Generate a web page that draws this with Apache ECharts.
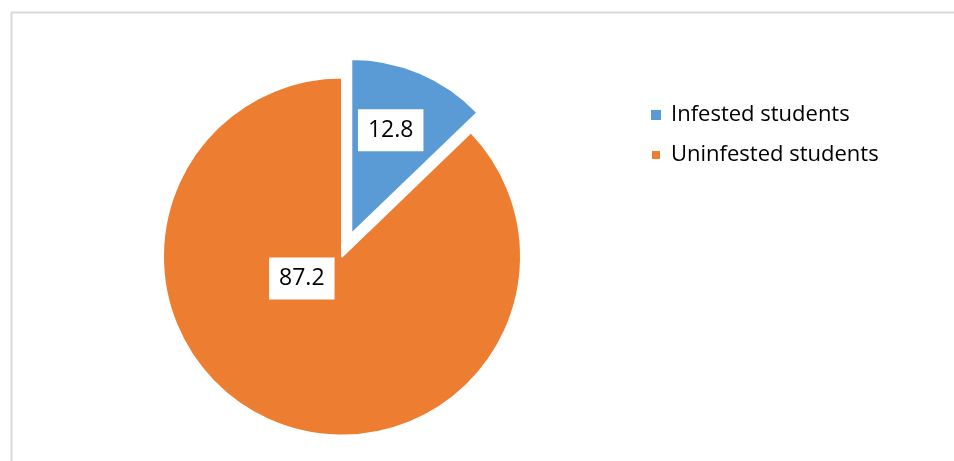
<!DOCTYPE html>
<html>
<head>
<meta charset="utf-8">
<script src="https://cdn.jsdelivr.net/npm/echarts@6/dist/echarts.min.js"></script>
<style>
html,body{margin:0;padding:0;background:#fff;}
#c{width:954px;height:461px;}
</style>
</head>
<body>
<div id="c"></div>
<script>
var categories = ['Infested students', 'Uninfested students'];
var values = [12.8, 87.2];
var colors = ['#5B9BD5', '#ED7D31'];
var explodedIndex = 0;
var labelShifts = [[4, -20.5], [-4, -63]];

var chart = echarts.init(document.getElementById('c'));

var labelBase = {
  show: true,
  position: 'inside',
  formatter: '{c}',
  fontFamily: 'Open Sans',
  fontSize: 23,
  color: '#000',
  backgroundColor: '#fff',
  padding: [7, 10],
  lineHeight: 28
};

function buildData(showExploded) {
  return categories.map(function (name, i) {
    var visible = (i === explodedIndex) === showExploded;
    return {
      name: name,
      value: values[i],
      selected: showExploded && i === explodedIndex,
      itemStyle: visible ? { color: colors[i], borderColor: '#fff', borderWidth: 2 }
                         : { color: 'rgba(0,0,0,0)', borderWidth: 0 },
      label: visible ? { show: true } : { show: false }
    };
  });
}

function layoutFn(params) {
  var s = labelShifts[params.dataIndex];
  return { dx: s[0], dy: s[1] };
}

var common = {
  type: 'pie',
  startAngle: 90,
  clockwise: true,
  avoidLabelOverlap: false,
  emphasis: { disabled: true },
  label: labelBase,
  labelLine: { show: false },
  labelLayout: layoutFn,
  legendHoverLink: false
};

chart.setOption({
  animation: false,
  color: colors,
  graphic: [{
    type: 'rect',
    shape: { x: 11.5, y: 12.5, width: 2000, height: 2000 },
    style: { fill: 'none', stroke: '#d9d9d9', lineWidth: 2 },
    silent: true
  }],
  legend: {
    orient: 'vertical',
    left: 645,
    top: 99,
    itemWidth: 10,
    itemHeight: 10,
    itemGap: 18,
    icon: 'rect',
    selectedMode: false,
    textStyle: { fontFamily: 'Open Sans', fontSize: 22, lineHeight: 22, color: '#000', padding: [0, 0, 0, 5] },
    data: categories.map(function (n, i) { return { name: n, itemStyle: { color: colors[i] } }; })
  },
  series: [
    Object.assign({}, common, {
      name: 'base',
      center: [342, 256.5],
      radius: [0, 179],
      selectedMode: false,
      data: buildData(false)
    }),
    Object.assign({}, common, {
      name: 'exploded',
      center: [341.5, 257],
      radius: [0, 175],
      selectedMode: 'single',
      selectedOffset: 25,
      data: buildData(true)
    })
  ]
});
</script>
</body>
</html>
